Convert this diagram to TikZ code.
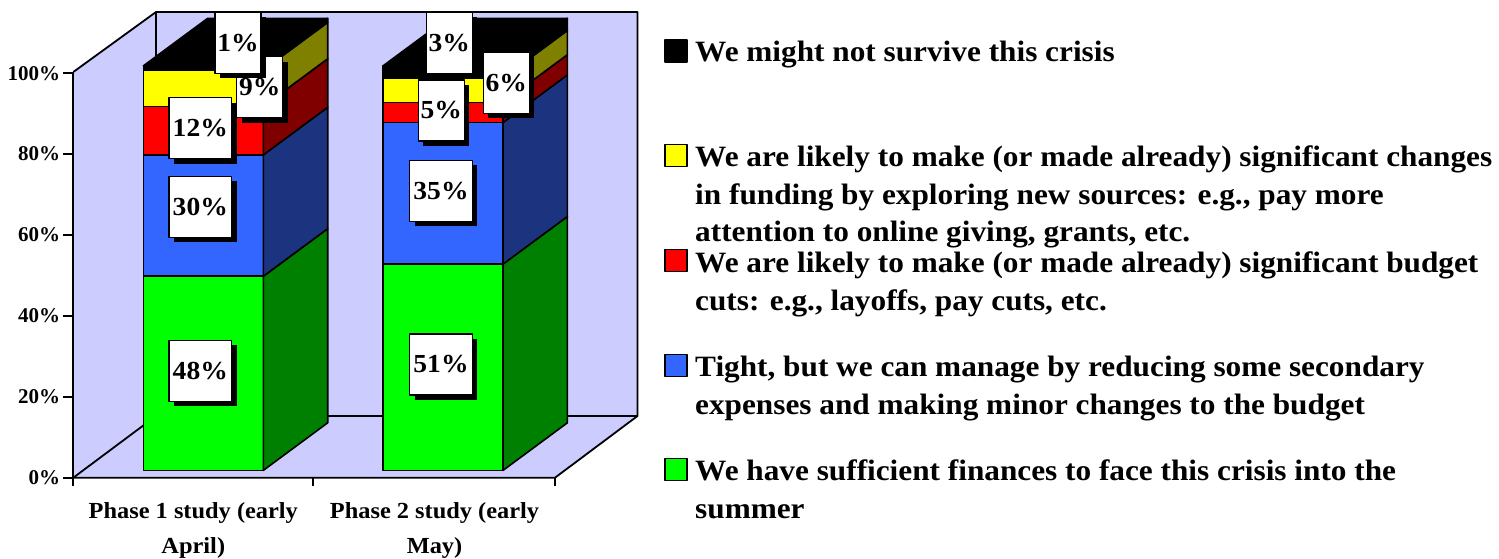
\documentclass[tikz,border=0pt]{standalone}
\usepackage{fontspec}
\setmainfont{Liberation Serif}
\newfontfamily\wfont[FakeStretch=1.06]{Liberation Serif}
\usetikzlibrary{shadows}
\definecolor{wallc}{RGB}{204,204,255}
\definecolor{grnF}{RGB}{0,255,0}\definecolor{grnS}{RGB}{0,128,0}
\definecolor{bluF}{RGB}{51,102,255}\definecolor{bluS}{RGB}{28,52,128}
\definecolor{redF}{RGB}{255,0,0}\definecolor{redS}{RGB}{128,0,0}
\definecolor{yelF}{RGB}{255,255,0}\definecolor{yelS}{RGB}{128,128,0}
\tikzset{
  vlab/.style={draw, fill=white, line width=1.2, inner sep=0, minimum height=61,
    font=\wfont\fontsize{26}{26}\selectfont\bfseries,
    drop shadow={shadow xshift=5pt, shadow yshift=-5pt, opacity=1, fill=black}},
  legt/.style={anchor=base west, inner sep=0, font=\wfont\fontsize{29.5}{30}\selectfont\bfseries},
  axt/.style={inner sep=0, font=\fontsize{21}{24}\selectfont\bfseries},
  catt/.style={anchor=base, inner sep=0, font=\wfont\fontsize{23}{24}\selectfont\bfseries}
}
\begin{document}
\begin{tikzpicture}[x=1pt, y=-1pt, line join=round]
\def\yz{470.4}\def\pc{4.045}\def\bw{120}\def\dx{64.4}\def\dy{-47.6}
\useasboundingbox (0,0) rectangle (1499,558);
% walls and floor
\fill[wallc] (73.3,72) -- (156,12) -- (637.5,12) -- (637.5,416) -- (555,477.7) -- (73.3,477.7) -- cycle;
\draw[line width=1.8] (73.3,72) -- (156,12) -- (637.5,12) -- (637.5,416) -- (555,477.7) -- (73.3,477.7);
\draw[line width=1.8] (156,12) -- (156,416) -- (637.5,416) (156,416) -- (73.3,477.7);
% axes
\draw[line width=1.8] (73.3,72) -- (73.3,486);
\foreach \x in {313.3,555} \draw[line width=1.8] (\x,477.7) -- (\x,486);
\foreach \p in {0,20,...,100}
  \draw[line width=1.8] (73.3,477.7-\p*\pc) -- (63,477.7-\p*\pc) node[axt, anchor=east, xshift=-2] {\p\%};
% bars
\foreach \x/\segs in {143.3/{0/48/grnF/grnS,48/78/bluF/bluS,78/90/redF/redS,90/99/yelF/yelS,99/100/black/black},
                      383/{0/51/grnF/grnS,51/86/bluF/bluS,86/91/redF/redS,91/97/yelF/yelS,97/100/black/black}}{
  \foreach \a/\b/\cf/\cs in \segs {
    \filldraw[fill=\cf, line width=1.6] (\x,\yz-\a*\pc) rectangle (\x+\bw,\yz-\b*\pc);
    \filldraw[fill=\cs, line width=1.6] (\x+\bw,\yz-\a*\pc) -- ++(\dx,\dy) -- ++(0,{-(\b-\a)*\pc}) -- ++(-\dx,-\dy) -- cycle;
  }
  \filldraw[fill=black, line width=1.6] (\x,\yz-100*\pc) -- ++(\bw,0) -- ++(\dx,\dy) -- ++(-\bw,0) -- cycle;
}
% value labels
\node[vlab, minimum width=62.7] (v48) at (200.3,370.8) {48\%};
\node[vlab, minimum width=62.7] (v30) at (200.3,206.7) {30\%};
\node[vlab, minimum width=62.7] (v12) at (200.3,128.3) {12\%};
\node[vlab, minimum width=46] (v9) at (259.7,87.3) {9\%};
\node[vlab, minimum width=46] (v1) at (238,42.8) {1\%};
\node[vlab, minimum width=62.7] (v51) at (441,364.5) {51\%};
\node[vlab, minimum width=62.7] (v35) at (441,190.8) {35\%};
\node[vlab, minimum width=46] (v5) at (441.3,110.5) {5\%};
\node[vlab, minimum width=46] (v6) at (506.3,82.8) {6\%};
\node[vlab, minimum width=46] (v3) at (449.2,42.8) {3\%};
% category labels
\node[catt] (c1a) at (193.3,518.3) {Phase 1 study (early};
\node[catt] (c1b) at (193.3,553.3) {April)};
\node[catt] (c2a) at (434.5,518.3) {Phase 2 study (early};
\node[catt] (c2b) at (434.5,553.3) {May)};
% legend
\foreach \y/\c in {40/black,144.3/yelF,249.3/redF,354.3/bluF,458.3/grnF}
  \filldraw[fill=\c, line width=1.4] (665,\y) rectangle ++(22,22);
\foreach \y/\t in {61.7/{We might not survive this crisis},
    166.7/{We are likely to make (or made already) significant changes},
    204.3/{in funding by exploring new sources: e.g., pay more},
    241.7/{attention to online giving, grants, etc.},
    272.3/{We are likely to make (or made already) significant budget},
    310/{cuts: e.g., layoffs, pay cuts, etc.},
    376.7/{Tight, but we can manage by reducing some secondary},
    414.3/{expenses and making minor changes to the budget},
    480.7/{We have sufficient finances to face this crisis into the},
    518/{summer}}
  \node[legt] at (695,\y) {\t};
\end{tikzpicture}
\end{document}
